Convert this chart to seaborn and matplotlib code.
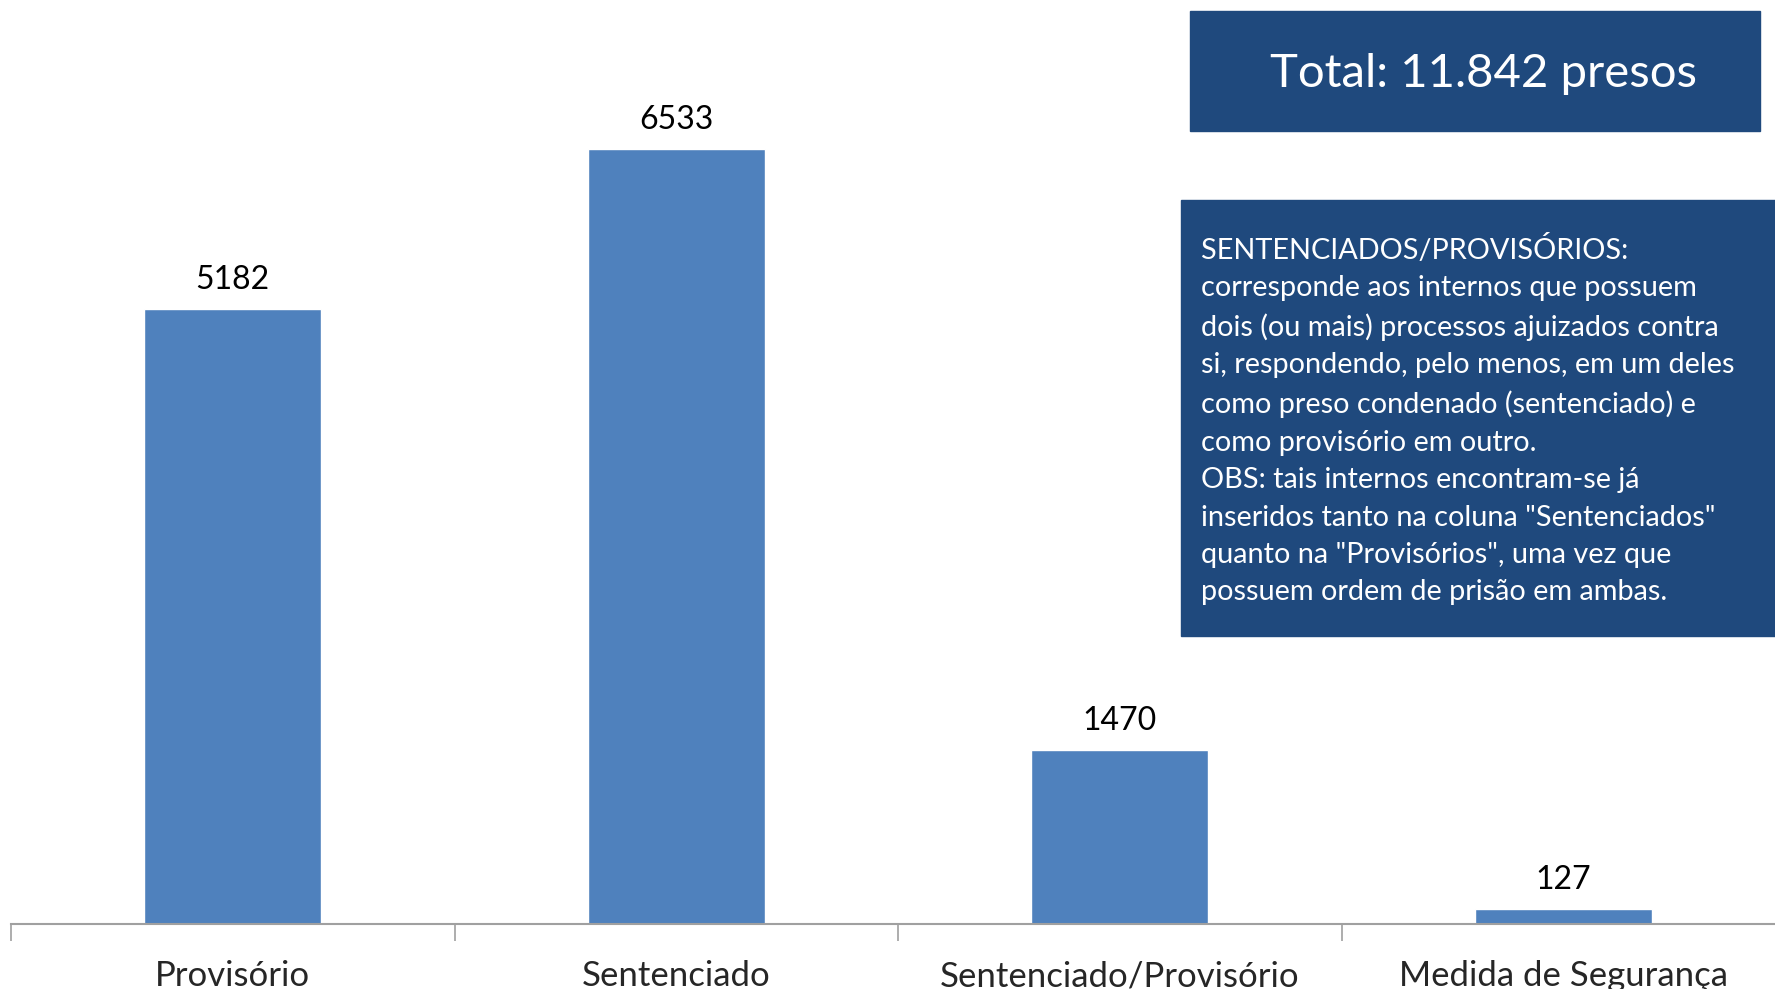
import numpy as np
import pandas as pd
import seaborn as sns
import matplotlib.pyplot as plt

# dati
categorie = ["Provisório", "Sentenciado", "Sentenciado/Provisório", "Medida de Segurança"]
valori = [5182, 6533, 1470, 127]
totale = "Total: 11.842 presos"
nota = ("SENTENCIADOS/PROVISÓRIOS:\n"
        "corresponde aos internos que possuem\n"
        "dois (ou mais) processos ajuizados contra\n"
        "si, respondendo, pelo menos, em um deles\n"
        "como preso condenado (sentenciado) e\n"
        "como provisório em outro.\n"
        "OBS: tais internos encontram-se já\n"
        "inseridos tanto na coluna \"Sentenciados\"\n"
        "quanto na \"Provisórios\", uma vez que\n"
        "possuem ordem de prisão em ambas.")

df = pd.DataFrame({"categoria": categorie, "valore": valori})

sns.set_style("white")
plt.rcParams['font.family'] = ['Lato', 'DejaVu Sans']

fig = plt.figure(figsize=(17.75, 9.89), dpi=100)
ax = fig.add_axes([11 / 1775, 65 / 989, 1774 / 1775, 924 / 989])

sns.barplot(x="categoria", y="valore", data=df, color="#4F81BD", saturation=1, width=0.4, ax=ax)
ax.bar_label(ax.containers[0], fontsize=23, padding=10, color="black")

ax.set_xlim(-0.5, 3.5)
ax.set_ylim(0, 7790)
ax.set_xlabel("")
ax.set_ylabel("")
ax.set_yticks([])

# tacche tra le categorie, etichette al centro
ax.set_xticks([-0.5, 0.5, 1.5, 2.5, 3.5])
ax.set_xticklabels([])
ax.set_xticks([0, 1, 2, 3], minor=True)
ax.set_xticklabels(categorie, minor=True, fontsize=25)
ax.tick_params(axis="x", which="major", length=12, width=1.2, color="#A0A0A0", direction="out", bottom=True)
ax.tick_params(axis="x", which="minor", length=0, pad=26)

for s in ["top", "right", "left"]:
    ax.spines[s].set_visible(False)
ax.spines["bottom"].set_color("#A0A0A0")
ax.spines["bottom"].set_linewidth(1.5)

# riquadri
box = "#1F497D"
fig.patches.append(plt.Rectangle((1190 / 1775, 1 - 131 / 989), 570 / 1775, 120 / 989,
                                 transform=fig.transFigure, color=box, zorder=5))
fig.text(1483 / 1775, 1 - 74 / 989, totale, color="white", fontsize=34, fontweight="normal",
         ha="center", va="center", zorder=6)

fig.patches.append(plt.Rectangle((1181 / 1775, 1 - 636 / 989), 600 / 1775, 436 / 989,
                                 transform=fig.transFigure, color=box, zorder=5))
fig.text(1201 / 1775, 1 - 420 / 989, nota, color="white", fontsize=20.8, linespacing=1.545,
         ha="left", va="center", zorder=6)

fig.savefig("out.png", dpi=100)
